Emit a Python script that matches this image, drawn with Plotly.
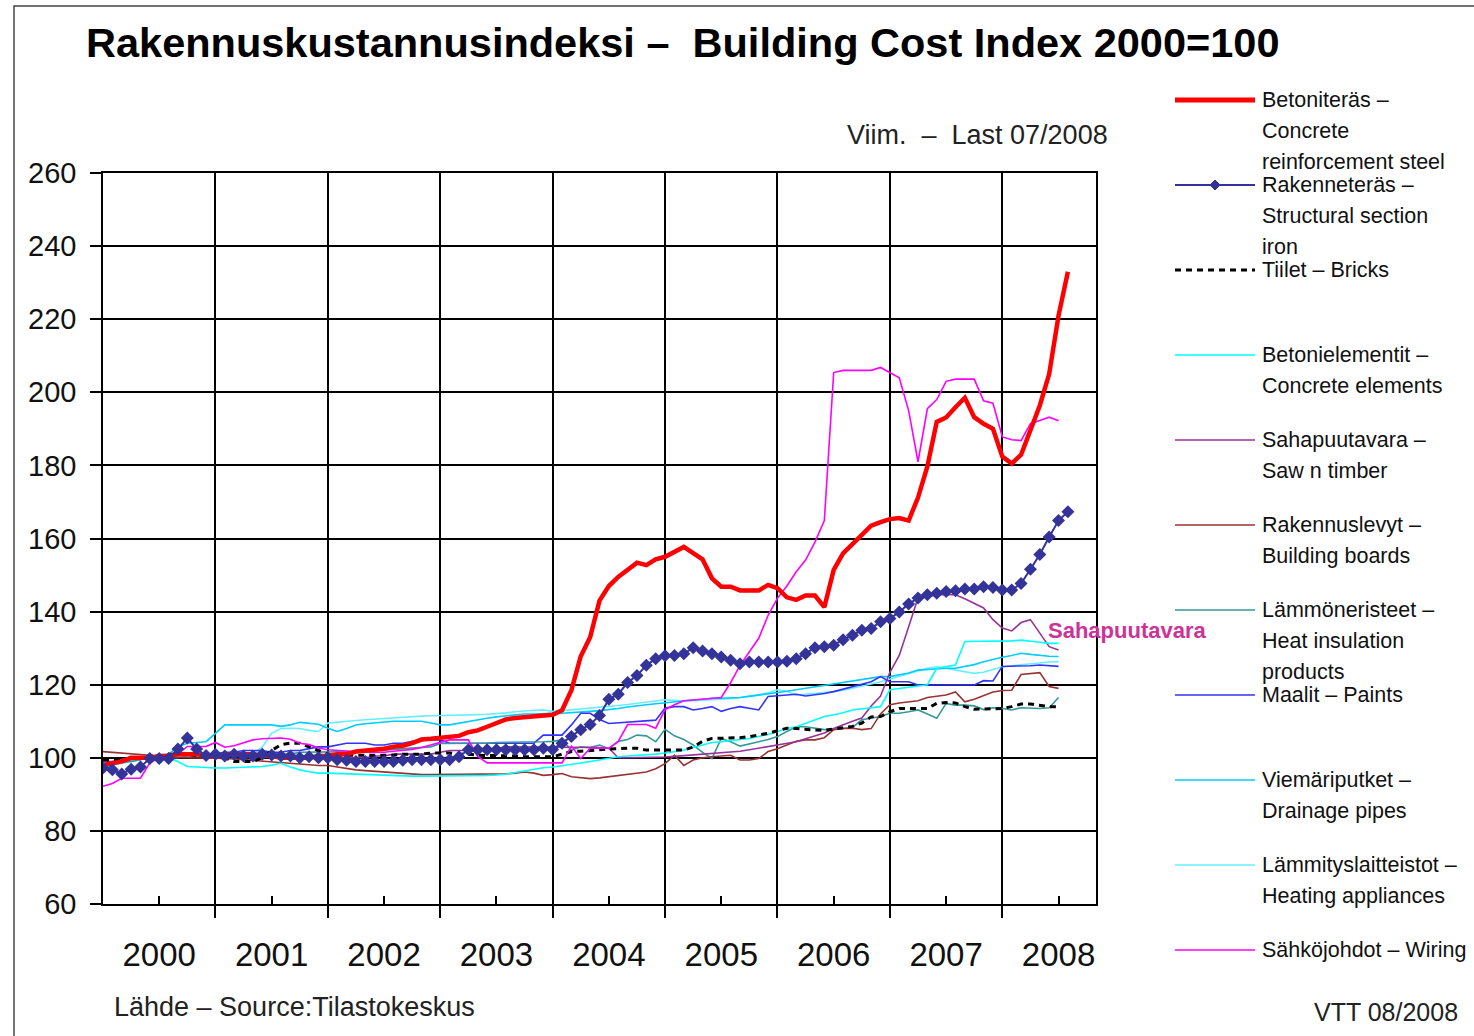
import pandas as pd
import plotly.graph_objects as go

# ---------------- data ----------------
months = pd.period_range("1999-12", "2008-07", freq="M")   # 104 monthly observations
years = list(range(2000, 2009))
year_labels = [str(y) for y in years]

betoniteras = [98, 98.5, 99, 100, 100, 100, 100.5, 100.5, 101, 101, 101, 100.5,
               100.5, 101, 101, 101, 101, 100.5, 100.5, 100, 100, 100, 100, 100.5,
               100.5, 101, 101, 101.7, 102, 102, 102.5, 103, 103.3, 104, 105, 105.2,
               105.4, 105.5, 106, 107, 107.5, 108.5, 109.5, 110.5, 110.9, 111.2, 111.3, 111.5,
               111.8, 113, 118.5, 127.8, 133, 143, 147, 149.5, 151.4, 153.4, 152.7, 154.3,
               155, 156.5, 157.7, 156, 154.3, 149.1, 146.8, 146.8, 145.8, 145.8, 145.8, 147.3,
               146.4, 143.9, 143.2, 144.4, 144.4, 141.2, 151.4, 155.9, 158.5, 160.8, 163.5, 164.5,
               165.3, 165.6, 164.9, 171.2, 179.7, 191.9, 193.1, 195.9, 198.5, 193.2, 191.4, 190,
               182.4, 180.5, 182.9, 189.6, 196.4, 205, 221, 233]

rakenneteras = [97.2, 96.7, 95.6, 96.9, 97.5, 99.8, 99.8, 99.8, 102.4, 105.4, 102.4, 100.6,
                101, 100.5, 101, 100.5, 100.5, 101, 100.8, 100.5, 100.5, 100, 100.3, 100,
                100, 99.5, 99.3, 99, 99, 99, 99, 99, 99.3, 99.5, 99.5, 99.5,
                99.5, 99.5, 100.3, 102.2, 102.2, 102.2, 102.2, 102.2, 102.2, 102.2, 102.2, 102.6,
                102.3, 104, 105.8, 107.7, 109.1, 111.6, 116, 117.4, 120.6, 122.5, 125.3, 127.1,
                127.9, 128, 128.5, 130.1, 129.2, 128.5, 127.6, 126.7, 125.7, 126.2, 126.2, 126.2,
                126.2, 126.4, 127.1, 128.5, 130.1, 130.4, 130.8, 132.3, 133.5, 134.9, 135.4, 137.2,
                138.1, 139.9, 142.1, 143.7, 144.6, 145, 145.5, 145.7, 146.2, 146.2, 146.8, 146.6,
                145.9, 145.9, 147.7, 151.6, 155.6, 160.4, 164.9, 167.3]

tiilet = [99.5, 99.3, 99.5, 100, 100, 100.5, 100.5, 101, 101, 101, 100.5, 100.5,
          100.5, 100, 99, 99, 99, 100, 102, 103.6, 104, 104, 103.1, 102,
          101, 100.7, 100.7, 100.7, 100.7, 100.7, 100.7, 100.7, 101, 101, 101, 101.3,
          101.3, 101.3, 101, 101, 100.7, 100.7, 100.7, 100.7, 100.5, 100.3, 100.3, 100.3,
          100.3, 101, 101.7, 101.8, 101.9, 102.2, 102.4, 102.6, 102.6, 102.6, 102.1, 102.1,
          102.1, 102.1, 102.1, 103, 104.5, 105.3, 105.3, 105.3, 105.5, 105.8, 106.2, 106.7,
          107.4, 108.1, 108, 107.7, 107.6, 107.5, 107.8, 108.1, 108.6, 109.5, 111.2, 111.3,
          112.6, 113.5, 113.5, 113.5, 113.5, 114.9, 115.1, 115, 114, 113.3, 113.3, 113.4,
          113.5, 114, 114.7, 114.7, 114.3, 114, 114, None]

betonielementit = [97.2, 98, 99.4, 99.8, 100, 100.3, 100.3, 100, 99, 97.6, 97.4, 97.2,
                   97.2, 97.2, 97.3, 97.4, 97.5, 97.6, 98, 98.5, 97.5, 96.7, 96.2, 95.8,
                   95.8, 95.7, 95.6, 95.5, 95.5, 95.4, 95.3, 95.2, 95.1, 95, 95, 95,
                   95, 95, 95, 95, 95.1, 95.2, 95.3, 95.5, 96, 96.5, 97, 97.3,
                   97.5, 97.8, 98.2, 98.6, 99, 99.5, 100, 100.3, 100.5, 100.6, 100.7, 101,
                   101.3, 101.6, 102.1, 102.8, 103.5, 104.2, 104.4, 104.8, 105, 105.3, 105.8, 106.4,
                   107.2, 108, 108.5, 109.5, 110.4, 111.3, 111.8, 112.3, 113.1, 113.4, 113.7, 114,
                   118.6, 119, 119.3, 119.6, 120, 124.5, 125, 125.4, 131.8, 131.8, 131.8, 131.8,
                   131.8, 132, 132.2, 132, 131.6, 131.3, 131.3, None]

sahapuutavara = [99, 99, 99.5, 100, 100, 100, 100, 100.5, 100.5, 101, 101, 101,
                 101, 101, 101, 101, 101, 100.5, 100.5, 100, 100, 100, 100, 100,
                 100, 100, 100, 100, 100, 100.5, 100.5, 101, 101, 101, 101, 101,
                 101.5, 102, 102, 102, 102.5, 102.5, 102.5, 103, 103, 103, 103, 103,
                 103, 103, 103, 103, 103, 102.8, 102.6, 100, 100, 100, 100, 100,
                 100.2, 100.4, 100.6, 100.7, 100.8, 101, 101.2, 101.4, 101.8, 102.2, 102.6, 103,
                 103.5, 104, 104.4, 105.2, 106, 106.8, 108, 109.1, 110, 110.9, 114.2, 116.9,
                 123.4, 128, 136, 143.7, 144, 144.6, 144.6, 144.6, 143.5, 142.2, 141, 137.8,
                 135.5, 134.7, 137, 137.8, 134, 130.4, 129.5, None]

rakennuslevyt = [101.7, 101.5, 101.3, 101, 100.7, 100.5, 100.3, 100.2, 100.1, 100, 100, 100,
                 99.9, 99.8, 99.7, 99.5, 99.2, 99, 98.8, 98.6, 98.4, 98.2, 98, 97.9,
                 97.9, 97.5, 97, 96.7, 96.5, 96.3, 96, 95.8, 95.6, 95.5, 95.4, 95.4,
                 95.4, 95.4, 95.4, 95.4, 95.4, 95.4, 95.4, 95.6, 95.8, 96.1, 95.8, 95.2,
                 95.4, 95.7, 94.8, 94.5, 94.3, 94.5, 94.8, 95.2, 95.5, 95.8, 96.1, 97,
                 98.4, 100.7, 97.9, 99.4, 100, 100.3, 100.5, 100.7, 99.4, 99.4, 99.8, 101.7,
                 102.5, 103.5, 104.5, 104.9, 104.9, 105.5, 107.7, 108, 108.1, 107.7, 108, 112,
                 114.5, 115, 115.4, 115.6, 116.5, 116.8, 117.2, 118, 115.3, 116, 117, 118,
                 118.4, 118.5, 122.8, 123, 123.3, 119.5, 119, None]

lammoneristeet = [98, 98.5, 99, 99, 99.5, 100, 100, 100, 100, 100.5, 100.5, 100.5,
                  100.5, 100.5, 101, 101, 101, 101, 101, 101, 101, 101.5, 101.5, 101.5,
                  101.7, 101.7, 101.7, 101.7, 102, 102, 102.1, 102.3, 102.5, 102.7, 103, 103,
                  103.9, 103.9, 103.9, 104, 104, 104, 104.2, 104.2, 104.3, 104.3, 104.4, 104.4,
                  104.5, 104.9, 102.1, 103, 102.8, 103.5, 102.5, 104.5, 105, 106.2, 106, 104.4,
                  107.8, 106, 105, 103.5, 101.5, 99.8, 105.3, 104.4, 103.2, 103.9, 104.4, 105,
                  105.8, 107.2, 108.5, 108.5, 108, 107.7, 107.8, 108.1, 108.3, 110.4, 110.8, 111.3,
                  112.2, 112.2, 112.6, 113.1, 112, 110.8, 114.9, 114.4, 114.4, 114.2, 113.2, 113.7,
                  113.5, 113.1, 113.7, 113.6, 113.5, 113.7, 116.5, None]

maalit = [98, 98.5, 99, 99.5, 100, 100, 100.5, 100.5, 101, 101, 101, 101,
          101, 101.5, 101.5, 102, 102, 102, 101.5, 101.5, 102, 102, 102.5, 103,
          103, 103.5, 104, 104, 104, 103.5, 103.5, 104, 104, 104.5, 104.9, 104.9,
          104.9, 104, 104, 104, 104, 104, 104, 104, 104, 104, 104, 106.2,
          106.2, 106.2, 109, 112.2, 112.2, 110.5, 109.4, 109.6, 109.8, 110, 110.1, 110.3,
          113.6, 114, 114, 113.1, 113.5, 114, 112.7, 113.5, 114, 113.6, 113.1, 116.8,
          117, 117.2, 117.4, 116.9, 117.2, 117.6, 118.1, 118.8, 119.5, 120.2, 120.8, 122.2,
          120.8, 120.8, 120.8, 119.9, 119.9, 119.9, 119.9, 119.9, 119.9, 119.9, 121.1, 121,
          125, 125, 125, 125.2, 125.4, 125.2, 125, None]

viemariputket = [97.6, 98, 98.5, 99, 99.5, 100, 100.5, 101, 103, 104, 104.2, 104.4,
                 106.7, 109, 109, 109, 109, 109, 109, 108.6, 109, 109.7, 109.5, 109.2,
                 108.1, 107.2, 108, 109, 109.3, 109.6, 109.8, 110, 110, 110, 110, 109.5,
                 109, 109, 109.5, 109.8, 110.4, 110.8, 111.2, 111.5, 111.8, 112, 112, 112.2,
                 112.2, 112.2, 112.3, 112.5, 112.7, 112.9, 113.1, 113.5, 113.9, 114.3, 114.5, 114.8,
                 115.1, 115.4, 115.6, 115.8, 116, 116.3, 116.3, 116.3, 116.5, 116.8, 117.1, 117.4,
                 117.7, 118.2, 118.6, 119, 119.5, 120, 120.4, 120.8, 121.2, 121.5, 121.8, 122.2,
                 122.2, 122.6, 123.2, 124, 124.2, 124.4, 124.5, 124.5, 125, 125.5, 126.3, 127,
                 127.5, 128, 128.6, 128.3, 128, 127.8, 127.7, None]

lammityslaitteistot = [98.5, 99, 99.5, 100, 100, 100.3, 100.5, 100.7, 100.7, 100.7, 100.7, 100.7,
                       100.7, 100.7, 100.7, 100.7, 101, 103, 106.7, 108, 108.1, 108, 107.5, 107.2,
                       109.5, 109.8, 110, 110.2, 110.4, 110.6, 110.8, 110.9, 111, 111.2, 111.4, 111.5,
                       111.6, 111.7, 111.8, 111.8, 111.8, 111.9, 112, 112.3, 112.6, 112.9, 113, 113.1,
                       112.7, 112.9, 113.1, 113.3, 113.5, 113.8, 114, 114.3, 114.6, 114.9, 115.3, 115.6,
                       115.9, 115.7, 115.5, 115.6, 115.7, 115.8, 116, 116.2, 116.5, 116.8, 117.3, 117.8,
                       118.6, 118.2, 117.2, 117.4, 117.6, 117.8, 118.1, 118.5, 119, 119.6, 120.2, 120.8,
                       121.5, 122.3, 123, 123.8, 124.5, 124.9, 124.5, 124, 123.5, 123.1, 123.4, 124.2,
                       124.9, 125.2, 125.5, 125.7, 126, 126.2, 126.3, None]

sahkojohdot = [92.2, 93, 94.4, 94.4, 94.4, 98.6, 100, 100, 101, 103.1, 103.1, 103.1,
               104.2, 102.9, 103.3, 104, 104.9, 105.2, 105.4, 105.4, 105.1, 104, 103.6, 102.7,
               102.2, 102, 101.8, 101.5, 101.5, 101.5, 101.5, 101.8, 102, 102.3, 102.8, 103.5,
               104.2, 104.9, 104.9, 104.9, 100.4, 98.6, 98.6, 98.6, 98.6, 98.6, 98.6, 98.6,
               98.6, 98.6, 103.2, 99.8, 102.6, 102.6, 102.6, 104.5, 109.1, 109.1, 109.1, 108.1,
               113.2, 114.5, 115.6, 115.8, 116, 116.3, 116.5, 120.6, 125.3, 129, 132.7, 139,
               143.7, 147, 150.9, 154.1, 159, 164.9, 205.4, 206, 206, 206, 206, 206.8,
               205.4, 204, 195, 181, 195.5, 198, 203, 203.6, 203.6, 203.6, 197.7, 197,
               187.8, 187, 186.8, 191.4, 192.3, 193.2, 192.2, None]

series_labels = [
    ["Betoniteräs –", "Concrete", "reinforcement steel"],
    ["Rakenneteräs –", "Structural section", "iron"],
    ["Tiilet – Bricks"],
    ["Betonielementit –", "Concrete elements"],
    ["Sahapuutavara –", "Saw n timber"],
    ["Rakennuslevyt –", "Building boards"],
    ["Lämmöneristeet –", "Heat insulation", "products"],
    ["Maalit – Paints"],
    ["Viemäriputket –", "Drainage pipes"],
    ["Lämmityslaitteistot –", "Heating appliances"],
    ["Sähköjohdot – Wiring"],
]
series_values = [betoniteras, rakenneteras, tiilet, betonielementit, sahapuutavara,
                 rakennuslevyt, lammoneristeet, maalit, viemariputket,
                 lammityslaitteistot, sahkojohdot]

# ---------------- styles ----------------
styles = [
    dict(color="#FF0000", width=4.5, dash="solid", marker=False),
    dict(color="#333399", width=2, dash="solid", marker=True),
    dict(color="#000000", width=3, dash="6px,5px", marker=False),
    dict(color="#00FFFF", width=1.6, dash="solid", marker=False),
    dict(color="#993399", width=1.6, dash="solid", marker=False),
    dict(color="#993333", width=1.6, dash="solid", marker=False),
    dict(color="#339999", width=1.6, dash="solid", marker=False),
    dict(color="#3333FF", width=1.6, dash="solid", marker=False),
    dict(color="#00CCFF", width=1.6, dash="solid", marker=False),
    dict(color="#66F0FF", width=1.6, dash="solid", marker=False),
    dict(color="#FF00FF", width=1.6, dash="solid", marker=False),
]
draw_order = [9, 8, 7, 6, 5, 4, 3, 2, 10, 0, 1]

W, H = 1474, 1036
L, R, T, B = 103, 1096, 173, 904


def px(x):
    return (x - L) / (R - L)


def py(y):
    return (B - y) / (B - T)


xvals = [p.year + p.month / 12 for p in months]

fig = go.Figure()
for k in draw_order:
    st = styles[k]
    fig.add_trace(go.Scatter(
        x=xvals, y=series_values[k], name=" ".join(series_labels[k]),
        mode="lines+markers" if st["marker"] else "lines",
        line=dict(color=st["color"], width=st["width"], dash=st["dash"]),
        marker=dict(symbol="diamond", size=10, color=st["color"]),
        connectgaps=False, showlegend=False, hoverinfo="x+y+name"))

FONT = "Liberation Sans, Arial, sans-serif"
shapes = []
annotations = []

# custom legend
for k, lines in enumerate(series_labels):
    st = styles[k]
    ly = 100 + 85 * k
    shapes.append(dict(type="line", xref="paper", yref="paper",
                       x0=px(1175), x1=px(1255), y0=py(ly), y1=py(ly),
                       line=dict(color=st["color"], width=st["width"] if k != 0 else 5,
                                 dash=st["dash"])))
    if st["marker"]:
        cx, cy, s = 1215, ly, 5
        path = "M {},{} L {},{} L {},{} L {},{} Z".format(
            px(cx), py(cy - s), px(cx + s), py(cy), px(cx), py(cy + s), px(cx - s), py(cy))
        shapes.append(dict(type="path", xref="paper", yref="paper", path=path,
                           fillcolor=st["color"], line=dict(color=st["color"], width=1)))
    for n, txt in enumerate(lines):
        annotations.append(dict(text=txt, xref="paper", yref="paper",
                                x=px(1260), y=py(ly + 31 * n), xanchor="left", yanchor="middle",
                                showarrow=False, font=dict(family=FONT, size=21.5, color="#111")))

# frame around the picture
shapes.append(dict(type="rect", xref="paper", yref="paper", layer="below",
                   x0=px(14), x1=px(1490), y0=py(1050), y1=py(6),
                   line=dict(color="#444", width=1.5), fillcolor="rgba(0,0,0,0)"))

annotations += [
    dict(text="<b>Rakennuskustannusindeksi –\u00a0 Building Cost Index 2000=100</b>",
         xref="paper", yref="paper", x=px(84), y=py(43), xanchor="left", yanchor="middle",
         showarrow=False, font=dict(family=FONT, size=41.5, color="#000")),
    dict(text="Viim.\u00a0 –\u00a0 Last 07/2008", xref="paper", yref="paper",
         x=px(1110), y=py(135), xanchor="right", yanchor="middle",
         showarrow=False, font=dict(family=FONT, size=27, color="#222")),
    dict(text="Lähde – Source:Tilastokeskus", xref="paper", yref="paper",
         x=px(112), y=py(1007), xanchor="left", yanchor="middle",
         showarrow=False, font=dict(family=FONT, size=27, color="#222")),
    dict(text="VTT 08/2008", xref="paper", yref="paper",
         x=px(1460), y=py(1012), xanchor="right", yanchor="middle",
         showarrow=False, font=dict(family=FONT, size=25, color="#222")),
    dict(text="<b>Sahapuutavara</b>", xref="paper", yref="paper",
         x=px(1127), y=py(630), xanchor="center", yanchor="middle",
         showarrow=False, font=dict(family=FONT, size=22, color="#CC3399")),
]

fig.update_layout(
    width=W, height=H,
    margin=dict(l=L, r=W - R, t=T, b=H - B, pad=0),
    paper_bgcolor="white", plot_bgcolor="white",
    showlegend=False,
    shapes=shapes, annotations=annotations,
    font=dict(family=FONT, color="#111"),
    xaxis=dict(range=[2000, 2008 + 10 / 12], tickmode="array",
               tickvals=[y + 0.5 for y in years], ticktext=year_labels,
               ticks="inside", ticklen=8, tickwidth=1.5, tickcolor="black",
               showgrid=False, zeroline=False, showline=True, linecolor="black",
               linewidth=1.5, mirror=True, tickfont=dict(size=33, color="#111"),
               ticklabelstandoff=21,
               minor=dict(tickmode="array", tickvals=years, ticks="outside", ticklen=12,
                          tickwidth=1.5, tickcolor="black", showgrid=True,
                          gridcolor="black", gridwidth=1.5)),
    yaxis=dict(range=[60, 260], tickmode="linear", tick0=60, dtick=20,
               ticks="outside", ticklen=11, tickwidth=1.5, tickcolor="black",
               showgrid=True, gridcolor="black", gridwidth=1.5, zeroline=False,
               showline=True, linecolor="black", linewidth=1.5, mirror=True,
               tickfont=dict(size=29, color="#111"), ticklabelstandoff=8),
)

fig.write_html("out.html", config={"displayModeBar": False},
               post_script="document.body.style.margin='0px';")
